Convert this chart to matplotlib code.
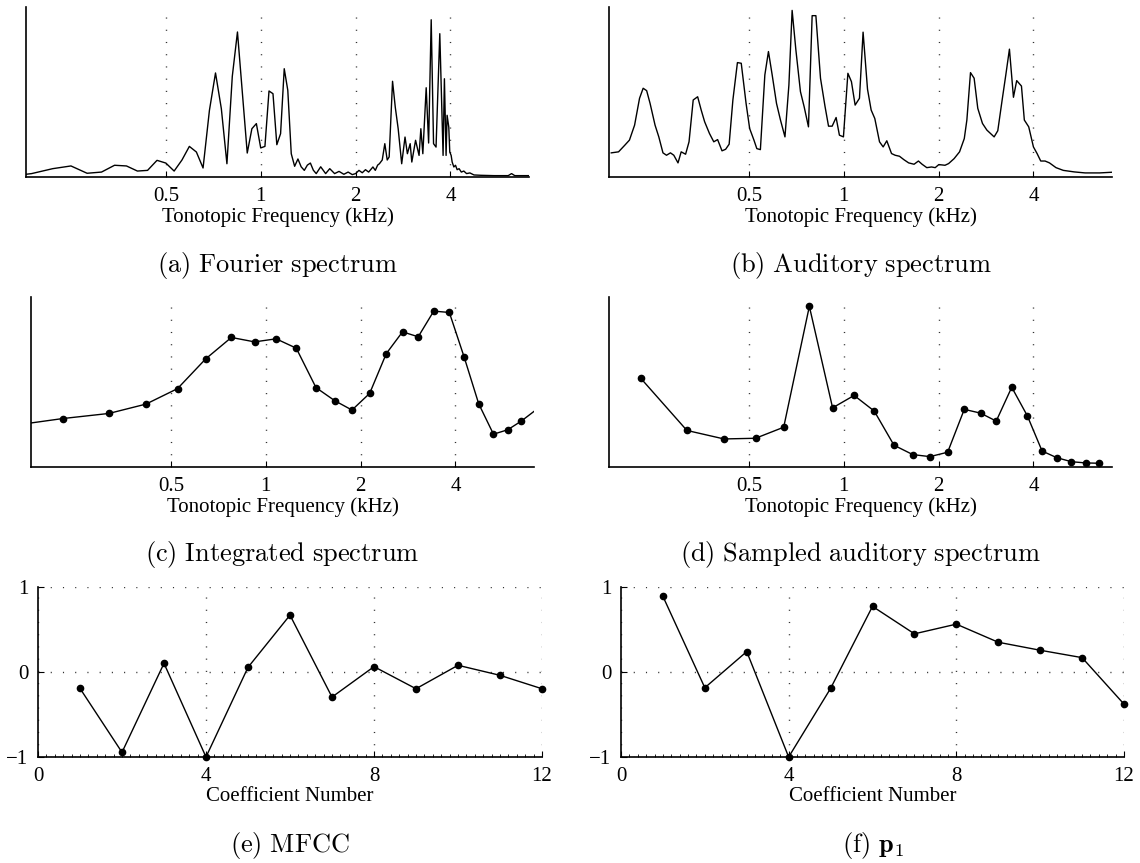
import matplotlib
matplotlib.use('Agg')
import matplotlib.pyplot as plt
from matplotlib.ticker import FixedLocator, FixedFormatter, NullLocator, MultipleLocator

plt.rcParams['font.family'] = 'Liberation Serif'
plt.rcParams['mathtext.fontset'] = 'cm'

# tonotopic axis ticks (kHz)
freq_ticks = [0.5, 1, 2, 4]
freq_labels = ['0.5', '1', '2', '4']

# (a) Fourier spectrum, normalised magnitude
fourier_khz = [0.18, 0.1875, 0.21875, 0.25, 0.28125, 0.3125, 0.34375, 0.375, 0.40625, 0.4375, 0.46875,
               0.5, 0.53125, 0.5625, 0.59375, 0.625, 0.65625, 0.6875, 0.71875, 0.75, 0.78125,
               0.8125, 0.84375, 0.875, 0.90625, 0.9375, 0.96875, 1.0, 1.03125, 1.0625, 1.09375,
               1.125, 1.15625, 1.1875, 1.21875, 1.25, 1.28125, 1.3125, 1.34375, 1.375, 1.40625,
               1.4375, 1.46875, 1.5,
               1.55, 1.607, 1.656, 1.716, 1.772, 1.836, 1.894, 1.952,
               2.0, 2.05, 2.10, 2.15, 2.20, 2.27, 2.31, 2.35, 2.38,
               2.43, 2.476, 2.52, 2.556, 2.62, 2.673, 2.73, 2.801, 2.870, 2.92,
               2.98, 3.016, 3.10, 3.18, 3.222, 3.269, 3.35, 3.41, 3.475, 3.535,
               3.60, 3.70, 3.79, 3.827, 3.874, 3.903, 3.951, 3.98, 4.02, 4.05,
               4.10, 4.15, 4.20, 4.26, 4.33, 4.41, 4.50, 4.61, 4.75, 5.0,
               5.5, 6.1, 6.25, 6.4, 7.1]
fourier_amp = [0.016, 0.02, 0.049, 0.065, 0.022, 0.029, 0.069, 0.065, 0.035, 0.039, 0.098,
               0.082, 0.035, 0.10, 0.18, 0.147, 0.053, 0.392, 0.612, 0.402, 0.078,
               0.592, 0.853, 0.49, 0.141, 0.284, 0.314, 0.171, 0.18, 0.506, 0.49,
               0.19, 0.255, 0.637, 0.51, 0.137, 0.063, 0.106, 0.06, 0.039, 0.07,
               0.082, 0.04, 0.02,
               0.06, 0.02, 0.049, 0.02, 0.033, 0.016, 0.029, 0.014,
               0.02, 0.039, 0.025, 0.043, 0.029, 0.059, 0.039, 0.07, 0.078,
               0.10, 0.196, 0.10, 0.118, 0.563, 0.41, 0.284, 0.078, 0.235, 0.137,
               0.196, 0.088, 0.216, 0.127, 0.284, 0.137, 0.525, 0.20, 0.925, 0.196,
               0.176, 0.843, 0.127, 0.578, 0.127, 0.363, 0.294, 0.147, 0.127, 0.088,
               0.059, 0.069, 0.043, 0.049, 0.029, 0.035, 0.02, 0.024, 0.012, 0.01,
               0.008, 0.008, 0.02, 0.008, 0.008]

# (b) auditory spectrum
aud_khz = [0.183, 0.193, 0.202, 0.209, 0.217, 0.225, 0.231, 0.237, 0.243, 0.252,
           0.259, 0.267, 0.274, 0.282, 0.289, 0.298, 0.305, 0.315, 0.323, 0.333,
           0.344, 0.353, 0.362, 0.375, 0.387, 0.398, 0.411, 0.422, 0.433, 0.445,
           0.460, 0.473, 0.490, 0.503, 0.519, 0.530, 0.544, 0.562, 0.577, 0.593,
           0.612, 0.630, 0.651, 0.670, 0.686, 0.705, 0.729, 0.749, 0.773, 0.794,
           0.816, 0.844, 0.872, 0.895, 0.919, 0.946, 0.969, 0.998, 1.031, 1.058,
           1.087, 1.122, 1.152, 1.190, 1.222, 1.255, 1.299, 1.334, 1.370, 1.418,
           1.456, 1.503, 1.552, 1.607, 1.672, 1.726, 1.773, 1.835, 1.900, 1.951,
           2.003, 2.096, 2.152, 2.240, 2.331, 2.413, 2.459, 2.525, 2.593, 2.663,
           2.756, 2.846, 3.001, 3.082, 3.182, 3.268, 3.356, 3.456, 3.539, 3.664,
           3.742, 3.864, 3.999, 4.107, 4.218, 4.354, 4.496, 4.716, 4.974, 5.386,
           5.834, 6.488, 7.10]
aud_amp = [0.142, 0.148, 0.187, 0.217, 0.305, 0.463, 0.522, 0.508, 0.433, 0.305,
           0.236, 0.142, 0.128, 0.142, 0.128, 0.083, 0.148, 0.134, 0.207, 0.453,
           0.472, 0.394, 0.325, 0.256, 0.207, 0.220, 0.154, 0.163, 0.193, 0.453,
           0.673, 0.669, 0.433, 0.285, 0.217, 0.167, 0.161, 0.600, 0.738, 0.600,
           0.433, 0.335, 0.236, 0.541, 0.980, 0.748, 0.502, 0.413, 0.295, 0.949,
           0.949, 0.581, 0.417, 0.299, 0.299, 0.350, 0.246, 0.236, 0.610, 0.561,
           0.423, 0.463, 0.852, 0.516, 0.394, 0.344, 0.207, 0.177, 0.213, 0.138,
           0.128, 0.122, 0.102, 0.083, 0.075, 0.094, 0.075, 0.055, 0.059, 0.055,
           0.073, 0.069, 0.079, 0.108, 0.148, 0.226, 0.335, 0.614, 0.581, 0.404,
           0.315, 0.276, 0.236, 0.272, 0.453, 0.600, 0.752, 0.469, 0.567, 0.535,
           0.335, 0.295, 0.177, 0.138, 0.094, 0.094, 0.083, 0.055, 0.039, 0.030,
           0.024, 0.024, 0.028]

# mel filter centre frequencies (kHz)
mel_khz = [0.227, 0.318, 0.417, 0.525, 0.645, 0.778, 0.922, 1.079, 1.25, 1.444, 1.656, 1.878,
           2.137, 2.413, 2.717, 3.047, 3.413, 3.825, 4.26, 4.74, 5.28, 5.86, 6.47]

# (c) integrated spectrum; neighbouring bands outside the axis range
integ_amp = [0.285, 0.315, 0.370, 0.461, 0.636, 0.762, 0.736, 0.754, 0.699, 0.467, 0.390, 0.335,
             0.433, 0.667, 0.795, 0.766, 0.917, 0.909, 0.648, 0.372, 0.193, 0.219, 0.270]
integ_edge_khz = [0.144, 7.25]
integ_edge_amp = [0.234, 0.34]

# (d) sampled auditory spectrum
sampled_amp = [0.522, 0.215, 0.165, 0.169, 0.234, 0.945, 0.348, 0.421, 0.329, 0.128, 0.073, 0.061,
               0.087, 0.339, 0.317, 0.270, 0.469, 0.301, 0.094, 0.055, 0.031, 0.024, 0.022]

# (e) MFCC and (f) p1
coef_num = [1, 2, 3, 4, 5, 6, 7, 8, 9, 10, 11, 12]
mfcc = [-0.193, -0.945, 0.102, -1.0, 0.055, 0.669, -0.295, 0.063, -0.197, 0.079, -0.039, -0.197]
p1 = [0.890, -0.185, 0.240, -1.0, -0.193, 0.772, 0.449, 0.563, 0.350, 0.256, 0.169, -0.378]

W, H = 1140, 863
fig = plt.figure(figsize=(W / 100, H / 100), dpi=100)

FS = 15
DOT = (0, (0.8, 8))


def add_panel(left, top, right, bottom):
    return fig.add_axes([left / W, 1 - bottom / H, (right - left) / W, (bottom - top) / H])


def caption(ax, text, y):
    pos = ax.get_position()
    fig.text((pos.x0 + pos.x1) / 2, 1 - y / H, text, ha='center', va='center', fontsize=19)


def style_freq(ax):
    ax.set_xscale('log', base=2)
    ax.set_xlim(0.18, 7.1)
    ax.set_ylim(0, 1)
    ax.xaxis.set_major_locator(FixedLocator(freq_ticks))
    ax.xaxis.set_major_formatter(FixedFormatter(freq_labels))
    ax.xaxis.set_minor_locator(NullLocator())
    ax.set_yticks([])
    ax.spines['top'].set_visible(False)
    ax.spines['right'].set_visible(False)
    for s in ('left', 'bottom'):
        ax.spines[s].set_linewidth(1.2)
    ax.grid(axis='x', linestyle=DOT, color='0.2', linewidth=1)
    ax.tick_params(axis='x', direction='in', length=4, pad=7, labelsize=FS)
    ax.set_xlabel('Tonotopic Frequency (kHz)', fontsize=FS, labelpad=1)


def style_coef(ax):
    ax.set_xlim(0, 12)
    ax.set_ylim(-1, 1)
    ax.set_xticks([0, 4, 8, 12])
    ax.set_yticks([-1, 0, 1])
    ax.xaxis.set_minor_locator(MultipleLocator(0.2))
    ax.spines['top'].set_visible(False)
    ax.spines['right'].set_visible(False)
    for s in ('left', 'bottom'):
        ax.spines[s].set_linewidth(1.2)
    ax.grid(True, linestyle=DOT, color='0.2', linewidth=1)
    ax.tick_params(axis='both', direction='in', length=4, pad=7, labelsize=FS)
    ax.tick_params(axis='x', which='minor', direction='in', length=2)
    ax.set_xlabel('Coefficient Number', fontsize=FS, labelpad=1)


line_kw = dict(color='black', linewidth=1.0)
dot_kw = dict(color='black', marker='o', markersize=4.5, linewidth=1.0)

ax_a = add_panel(26, 7, 529, 177)
ax_a.plot(fourier_khz, fourier_amp, **line_kw)
style_freq(ax_a)
caption(ax_a, r'$\mathrm{(a)\ Fourier\ spectrum}$', 265)

ax_b = add_panel(609, 7, 1112, 177)
ax_b.plot(aud_khz, aud_amp, **line_kw)
style_freq(ax_b)
caption(ax_b, r'$\mathrm{(b)\ Auditory\ spectrum}$', 265)

ax_c = add_panel(31, 297, 534, 467)
ax_c.plot([integ_edge_khz[0]] + mel_khz + [integ_edge_khz[1]],
          [integ_edge_amp[0]] + integ_amp + [integ_edge_amp[1]], **line_kw)
ax_c.plot(mel_khz, integ_amp, linestyle='none', marker='o', markersize=4.5, color='black')
style_freq(ax_c)
caption(ax_c, r'$\mathrm{(c)\ Integrated\ spectrum}$', 555)

ax_d = add_panel(609, 297, 1112, 467)
ax_d.plot(mel_khz, sampled_amp, **dot_kw)
style_freq(ax_d)
caption(ax_d, r'$\mathrm{(d)\ Sampled\ auditory\ spectrum}$', 555)

ax_e = add_panel(38, 587, 542, 757)
ax_e.plot(coef_num, mfcc, clip_on=False, **dot_kw)
style_coef(ax_e)
caption(ax_e, r'$\mathrm{(e)\ MFCC}$', 845)

ax_f = add_panel(621, 587, 1124, 757)
ax_f.plot(coef_num, p1, clip_on=False, **dot_kw)
style_coef(ax_f)
caption(ax_f, r'$\mathrm{(f)}\ \mathbf{p}_1$', 845)

fig.savefig('out.png', dpi=100)
